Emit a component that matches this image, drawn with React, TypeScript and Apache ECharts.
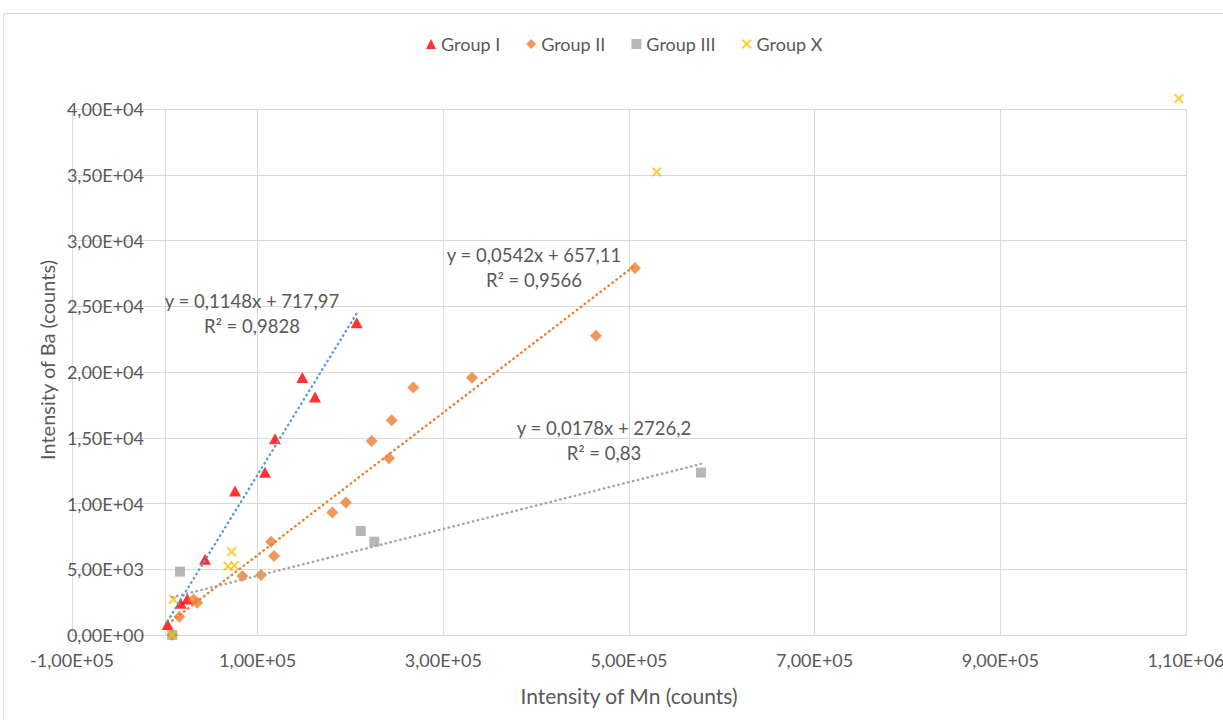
import React, { useEffect, useRef } from 'react';
import * as echarts from 'echarts';

// Intensity of Mn (x), Intensity of Ba (y)
const groupI: [number, number][] = [
  [3000, 800], [17100, 2410], [24200, 2740], [43300, 5760], [75600, 10960],
  [107900, 12380], [118700, 14920], [148100, 19580], [161800, 18090], [206700, 23740],
];
const groupII: [number, number][] = [
  [8000, 0], [15600, 1390], [31000, 2700], [35000, 2450], [83500, 4490], [103600, 4570],
  [114400, 7100], [117600, 6010], [180400, 9310], [195100, 10070], [222800, 14760],
  [241500, 13450], [244400, 16340], [267600, 18820], [330900, 19560], [464400, 22750],
  [506400, 27900],
];
const groupIII: [number, number][] = [
  [8000, 0], [16400, 4820], [211000, 7910], [225600, 7100], [577500, 12350],
];
const groupX: [number, number][] = [
  [8000, 0], [9200, 2720], [68000, 5220], [75000, 5280], [72000, 6340],
  [529800, 35210], [1092300, 40790],
];

const seriesNames = ['Group I', 'Group II', 'Group III', 'Group X'];
const trendSlopes = [0.1148, 0.0542, 0.0178];
const trendIntercepts = [717.97, 657.11, 2726.2];
const trendEquations = ['y = 0,1148x + 717,97', 'y = 0,0542x + 657,11', 'y = 0,0178x + 2726,2'];
const trendR2 = ['R² = 0,9828', 'R² = 0,9566', 'R² = 0,83'];

const xAxisTitle = 'Intensity of Mn (counts)';
const yAxisTitle = 'Intensity of Ba (counts)';

const FONT = 'Lato, "Open Sans", sans-serif';
const TEXT = '#595959';
const GRID = '#D9D9D9';

function sci(v: number): string {
  if (v === 0) return '0,00E+00';
  const s = v.toExponential(2);
  const [m, e] = s.split('e');
  const ei = parseInt(e, 10);
  return m.replace('.', ',') + 'E' + (ei < 0 ? '-' : '+') + String(Math.abs(ei)).padStart(2, '0');
}

function trendData(pts: [number, number][], k: number, b: number): [number, number][] {
  const xs = pts.map((p) => p[0]);
  const x0 = Math.min(...xs);
  const x1 = Math.max(...xs);
  return [[x0, k * x0 + b], [x1, k * x1 + b]];
}

const XSYM =
  'path://M0,1.4 L1.4,0 L5,3.6 L8.6,0 L10,1.4 L6.4,5 L10,8.6 L8.6,10 L5,6.4 L1.4,10 L0,8.6 L3.6,5 Z';

export default function App() {
  const ref = useRef<HTMLDivElement>(null);
  useEffect(() => {
    if (!ref.current) return;
    const chart = echarts.init(ref.current, undefined, { renderer: 'svg' });
    const groups = [groupI, groupII, groupIII];
    const trendColors = ['#5B9BD5', '#ED7D31', '#A5A5A5'];
    const labelPos = [
      [252, 288],
      [534, 242],
      [604, 415],
    ];
    chart.setOption({
      animation: false,
      backgroundColor: '#ffffff',
      textStyle: { fontFamily: FONT },
      grid: { left: 72, right: 37, top: 109, bottom: 85, outerBoundsMode: 'none', containLabel: false },
      legend: {
        data: seriesNames,
        left: 421,
        top: 30,
        itemWidth: 10,
        itemHeight: 10,
        itemGap: 26,
        textStyle: { fontSize: 18, color: TEXT, fontFamily: FONT },
      },
      xAxis: {
        type: 'value',
        min: -100000,
        max: 1100000,
        interval: 200000,
        axisLine: { show: true, onZero: false, lineStyle: { color: GRID, width: 1 } },
        axisTick: { show: false },
        splitLine: { show: true, lineStyle: { color: GRID, width: 1 } },
        axisLabel: { formatter: sci, color: TEXT, fontSize: 18, margin: 16, fontFamily: FONT },
        name: xAxisTitle,
        nameLocation: 'middle',
        nameGap: 50,
        nameTextStyle: { fontSize: 21, color: TEXT, fontFamily: FONT },
      },
      yAxis: {
        type: 'value',
        min: 0,
        max: 40000,
        interval: 5000,
        axisLine: { show: false },
        axisTick: { show: false },
        splitLine: { show: true, lineStyle: { color: GRID, width: 1 } },
        axisLabel: { formatter: sci, color: TEXT, fontSize: 18, margin: -72, fontFamily: FONT },
      },
      graphic: [
        {
          type: 'rect',
          shape: { x: 3.5, y: 13.5, width: 1400, height: 900 },
          style: { fill: 'none', stroke: GRID, lineWidth: 1 },
          silent: true,
          z: -10,
        },
        {
          type: 'text',
          x: 47,
          y: 360,
          rotation: Math.PI / 2,
          style: {
            text: yAxisTitle,
            fill: TEXT,
            font: `20px ${FONT}`,
            align: 'center',
            verticalAlign: 'middle',
          },
        },
        ...labelPos.map((p, i) => ({
          type: 'text',
          x: p[0],
          y: p[1],
          z: 100,
          style: {
            text: trendEquations[i] + '\n' + trendR2[i],
            fill: TEXT,
            font: `18.5px ${FONT}`,
            align: 'center',
            verticalAlign: 'top',
            lineHeight: 25,
          },
        })),
      ],
      series: [
        {
          name: 'Group I',
          type: 'scatter',
          data: groupI,
          symbol: 'triangle',
          symbolSize: [12, 11],
          itemStyle: { color: '#FF0000' },
          z: 2,
          markLine: {
            silent: true,
            symbol: 'none',
            label: { show: false },
            lineStyle: { color: GRID, width: 1, type: 'solid' },
            data: [{ xAxis: 0 }],
            z: 1,
          },
        },
        {
          name: 'Group II',
          type: 'scatter',
          data: groupII,
          symbol: 'diamond',
          symbolSize: 12,
          itemStyle: { color: '#ED7D31' },
          z: 2,
        },
        {
          name: 'Group III',
          type: 'scatter',
          data: groupIII,
          symbol: 'rect',
          symbolSize: 10,
          itemStyle: { color: '#A5A5A5' },
          z: 2,
        },
        {
          name: 'Group X',
          type: 'scatter',
          data: groupX,
          symbol: XSYM,
          symbolSize: 10,
          itemStyle: { color: '#FFC000' },
          clip: false,
          z: 2,
        },
        ...groups.map((g, i) => ({
          name: 'trend' + i,
          type: 'line',
          data: trendData(g, trendSlopes[i], trendIntercepts[i]),
          symbol: 'none',
          silent: true,
          z: 3,
          lineStyle: { color: trendColors[i], width: 2.4, type: [0.5, 4.5], cap: 'round' },
        })),
      ],
    });
    return () => chart.dispose();
  }, []);
  return (
    <div
      ref={ref}
      style={{ position: 'fixed', left: 0, top: 0, width: 1223, height: 720, background: '#fff' }}
    />
  );
}
